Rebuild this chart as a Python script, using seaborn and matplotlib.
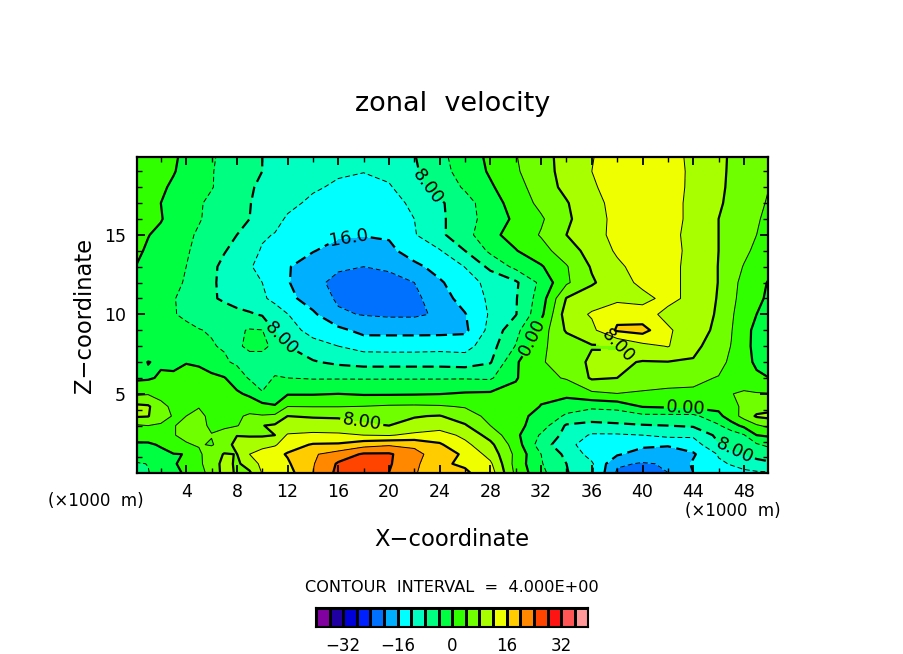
import numpy as np
import matplotlib
matplotlib.use("Agg")
import matplotlib.pyplot as plt
from matplotlib.colors import ListedColormap, BoundaryNorm
import seaborn as sns

sns.set_style("white")
plt.rcParams['font.family'] = ['DejaVu Sans']
plt.rcParams['text.color'] = 'black'
plt.rcParams['axes.labelcolor'] = 'black'
plt.rcParams['xtick.color'] = 'black'
plt.rcParams['ytick.color'] = 'black'

x_km = [0,1,2,3,4,5,6,7,8,9,10,11,12,14,16,18,20,22,24,26,28,30,32,34,36,38,40,42,44,46,47,48,49,50]
z_km = [0.05,0.6,1.2,1.8,2.4,3,3.6,4.2,5,6,7,8,9,10,11,12,13,14,15,16,17,18,19,19.9]

u_z00 = [-4.6,-4.2,-1.8,-0.5,0.3,3,5,9.5,7.5,7.5,12.3,13.5,14.5, 20,25,26,24,20.5,16.5,16.5,14,3,-3,-7.7,-11.5,-20.5,-22,-20,-16, -13.5,-13,-12.8,-12.5,-12.3]
u_z01 = [-4.4,-3.9,-1.5,-0.5,1.5,3.4,5.5,9.5,7.3,9.8,13,14,15.5, 19.7,24.5,25.5,24.4,21,16.5,15.5,12.7,2.5,-3.7,-8,-11.5,-19.5,-20.3,-19.7,-15.5, -12.5,-11.8,-10.5,-9,-8.5]
u_z02 = [-1.8,-0.9,-0.5,-0.2,0.1,3.5,5.5,8.3,7.9,12,13.3,15,16.3, 19.5,21.8,24.5,24.5,21.5,17.5,15.5,10.5,3,-4,-9,-13.5,-15.5,-18,-18.5,-16.5, -11.7,-9,-8,-7,-6.5]
u_z03 = [-0.5,-0.3,0.2,3.4,3.8,4.2,3.8,5,10,10.8,11,11.5,14.5, 16.3,16.5,18.5,19.5,19,16.5,13,9,2,-6,-10.8,-14,-14.5,-15,-15.5,-14, -8.3,-7,-5.8,-4.5,-3]
u_z04 = [1.5,1,2.6,3.9,4.5,4.2,4.1,5,7.8,7.5,7.5,8,12.5, 13,12.8,12,11.7,13,13.8,11,6.5,0.9,-4.5,-9.3,-12.5,-12.5,-12,-11,-11.3, -7,-6.3,-4.3,0,0.6]
u_z05 = [3.5,4,3.7,3.9,4.5,4.7,3.6,3.5,3.8,5.5,7.9,8.5,8.8, 9.5,9.3,8.3,8,9,10.2,8.4,4,1.2,-2,-8.5,-9,-8.5,-8.3,-8,-7.5, -4.5,-1.5,0.9,3.5,5]
u_z06 = [8.5,8.2,5,3.8,4,4.5,3.5,2.8,3.5,4.5,4.3,4.8,8, 7.7,7.6,7.3,7,7.8,8.2,6,2.8,1.2,-1.2,-4.6,-6.4,-6.5,-5,-5,-5, -1,2,5.4,8.5,9]
u_z07 = [9,8.5,5.3,3,2.5,3.9,4,3,3.8,2.5,1.5,0.3,4, 3.9,3.9,4.1,4.5,4.6,4.4,3.7,2.5,1.5,-0.1,-2.4,-3.2,-2.5,0.2,0.6,1, 1,3.4,4.4,6,6.5]
u_z08 = [3.3,3.7,2.5,1.8,1.5,1.5,2,1.4,0.6,-0.7,-3.8,-2,-0.3, -0.3,0,-0.4,-0.4,-0.3,-0.1,0.4,0.6,1,0.5,1.1,3.2,3.9,3.6,3.3,3.4, 3.3,3.9,4.5,4.3,4.2]
u_z09 = [-0.7,-0.5,0.5,0.3,0.8,1,0.8,0.2,-2,-4.4,-5,-3.8,-4, -4.3,-4.3,-4.3,-4.3,-4.3,-4.3,-4.3,-4.5,-0.3,3,4.3,8.5,8,5.7,5.3,4.8, 3.8,3,2,0.5,0]
u_z10 = [-1.5,0.1,-0.5,-0.4,-0.1,-0.4,-1.8,-3.5,-4.6,-4.8,-4.6,-5.2,-6, -7.7,-8.8,-9.5,-9.5,-9.5,-9.5,-9.8,-8.3,-0.5,3.8,5,9,8.6,7.8,7.9,7.6, 5.3,3.2,1,-0.5,-1]
u_z11 = [-3,-3,-3,-3.1,-3.3,-3.5,-3.8,-4.3,-4.3,-3.6,-3.7,-4.3,-8, -10.2,-12,-13.4,-13.5,-13.5,-13.3,-13.5,-9.5,-3.8,3.5,5.5,7.7,7.8,10.8,12.2,9.2, 5.6,3.9,1,-0.9,-1.5]
u_z12 = [-3,-3.1,-3.2,-3.4,-3.6,-3.9,-4.2,-4.4,-4.6,-3.7,-3.9,-8.3,-10, -13.7,-15,-17.2,-17.2,-17.2,-17.2,-16.8,-10.7,-5.3,2,8.5,11,16.5,17.5,12.5,10, 7,4.2,1.3,-1,-1.7]
u_z13 = [-2,-2.8,-3.5,-3.9,-4.3,-4.9,-5.5,-6.1,-6.8,-7.5,-8.4,-10,-11.9, -15.3,-19.5,-20.2,-20.6,-20.6,-19.5,-16.2,-11.5,-8.2,-1,10,12.4,15,13.5,11,10.3, 7.5,4.5,2,0,-1.5]
u_z14 = [-1.8,-2.5,-3.2,-3.9,-4.5,-6,-7.5,-8.6,-9.8,-10.6,-11.4,-13,-14.8, -18,-20.5,-22.5,-22.5,-21,-17.7,-14.5,-11.3,-8.3,-2,8.2,10.3,11,11,13,11, 7.7,5,2.5,1,-0.8]
u_z15 = [-1,-1.9,-2.7,-3.5,-4.2,-5.8,-7.4,-9,-10.4,-11.2,-12,-14,-15.7, -19,-21,-22,-21.5,-20,-16.5,-13.6,-10.9,-8.6,-3,3.4,7.5,10.5,12.8,13,11, 7.9,4.9,3.2,1.2,-0.3]
u_z16 = [0,-1,-2,-3,-4,-5.7,-7.3,-8.8,-10.3,-11.7,-13,-14.3,-15.7, -18,-19.5,-20,-19.3,-17,-14.5,-11.9,-7,-3,-0.4,3.7,8.4,11.3,13.5,13,11, 7.9,5.7,3.8,2.5,1]
u_z17 = [0.6,-0.4,-1.4,-2.5,-3.6,-5,-6.5,-7.8,-9,-10.5,-12.4,-13.2,-14, -15.8,-17.5,-18,-17,-14,-12.3,-8,-3.2,-0.2,2.6,6,9.6,12.5,14,13.3,11, 8,6.2,4.8,3.2,2]
u_z18 = [1,0.1,-0.7,-2,-3.2,-4.5,-5.8,-6.9,-8,-9.7,-11.5,-12.2,-13, -14.5,-15.5,-15.8,-15.5,-12.3,-8.8,-5.5,-1,1.5,4.3,8,10.7,13,14,13,11, 8,6.4,5,4,2.4]
u_z19 = [1.5,0.8,0.2,-1.2,-2.6,-3.7,-5,-6,-7.2,-8,-9,-10.8,-12.5, -14,-15,-15.5,-15,-12,-8.8,-5.5,-2.4,0.8,3.5,7.3,10.5,13,14,13.5,11, 8,6.7,5.5,4.5,2.8]
u_z20 = [1.8,0.9,0,-1.1,-2.3,-3.6,-4.8,-5.9,-6.9,-7.9,-8.8,-9.9,-11, -12.8,-14,-14.3,-13.8,-11,-8.6,-5.5,-1.8,1.7,5,7.7,11,13,14,13.5,11, 8.5,7.1,6,5,3.5]
u_z21 = [2,1.2,0.5,-0.5,-1.5,-2.7,-3.8,-5.2,-6.5,-7.7,-8.5,-9.2,-10, -11.5,-12.6,-13,-12.4,-9.5,-6.5,-3.5,-0.5,2.5,6,9,11.7,13,14,13.2,11.4, 8.8,7.3,6,5,4]
u_z22 = [2.5,1.8,1.2,0.2,-1,-2.4,-3.8,-4.9,-6,-7,-8,-8.8,-9.5, -10.5,-11.5,-11.9,-11,-8.6,-5.3,-2.5,0.5,3.5,6.5,9.3,12,13,14,13.3,11.4, 8.8,7.5,6.2,5.3,4.5]
u_z23 = [2.5,2,1.5,0.4,-0.7,-2.1,-3.6,-4.8,-6,-7,-8,-8.5,-9, -9.5,-10,-10,-9.5,-8.2,-5,-2,0.8,3.8,6.7,9.3,11.9,13,14,13.2,11.3, 8.8,7.6,6.5,5.5,4.5]

u_rows = [u_z00,u_z01,u_z02,u_z03,u_z04,u_z05,u_z06,u_z07,u_z08,u_z09,u_z10,u_z11,
          u_z12,u_z13,u_z14,u_z15,u_z16,u_z17,u_z18,u_z19,u_z20,u_z21,u_z22,u_z23]

band_colors = ["#8000A0","#2000A0","#0000D8","#0020FF","#0070FF","#00B0FF","#00FFFF","#00FFC0",
               "#00FF80","#00FF40","#30FF00","#70FF00","#A8FF00","#F0FF00","#FFCC00","#FF8800",
               "#FF4400","#FF1414","#FF5555","#FF9999"]
band_edges = list(range(-40, 41, 4))
thin_levels = [-28,-20,-12,-4,4,12,20,28]
thick_levels = [-24,-16,-8,0,8,16,24]
bar_ticks = [-32,-16,0,16,32]
bar_labels = ["−32","−16","0","16","32"]
label_spots = [(23,18),(16.9,14.4),(11.6,8.6),(17.8,3.0),(31.2,8.6),(38.1,8.2),(43.4,4.1),(47.3,1.5)]

W, H = 904, 654
fig = plt.figure(figsize=(W/100, H/100), dpi=100, facecolor="white")
ax = fig.add_axes([137/W, 1-472.5/H, 631/W, 315.5/H])
ax.set_axisbelow(False)

X, Z = np.meshgrid(x_km, z_km)
U = np.array(u_rows, dtype=float)
cmap = ListedColormap(band_colors)
norm = BoundaryNorm(band_edges, cmap.N)
ax.contourf(X, Z, U, levels=band_edges, cmap=cmap, norm=norm, antialiased=False)
ax.contour(X, Z, U, levels=thin_levels, colors="k", linewidths=0.7,
           linestyles=[(0,(5,3)) if v < 0 else "solid" for v in thin_levels])
cs = ax.contour(X, Z, U, levels=thick_levels, colors="k", linewidths=1.6,
                linestyles=[(0,(5,2.5)) if v < 0 else "solid" for v in thick_levels])
def fmt(v):
    return "16.0" if abs(v) == 16 else f"{abs(v):.2f}"
ax.clabel(cs, inline=True, fontsize=12.8, fmt=fmt, manual=label_spots, inline_spacing=2)

ax.set_xlim(0.12, 49.9)
ax.set_ylim(0.05, 19.9)
ax.set_xticks(range(4, 49, 4))
ax.set_xticks(range(2, 50, 2), minor=True)
ax.set_yticks([5, 10, 15])
ax.set_yticks(range(1, 20), minor=True)
ax.tick_params(which="major", direction="in", length=6, width=1.3, top=True, right=True, bottom=True, left=True,
               labelsize=12.5)
ax.tick_params(which="minor", direction="in", length=3.5, width=1, top=True, right=True, bottom=True, left=True)
ax.tick_params(axis="x", which="major", pad=7.5)
ax.tick_params(axis="y", which="major", pad=8)
for s in ax.spines.values():
    s.set_visible(True)
    s.set_linewidth(1.6)
    s.set_color("k")

fig.text(452.5/W, 1-104/H, "zonal  velocity", fontsize=19.5, ha="center", va="center")
fig.text(452/W, 1-540/H, "X−coordinate", fontsize=16.3, ha="center", va="center")
fig.text(84/W, 1-315/H, "Z−coordinate", fontsize=16.3, rotation=90, ha="center", va="center")
fig.text(95.5/W, 1-501/H, "(×1000  m)", fontsize=12, ha="center", va="center")
fig.text(732.5/W, 1-511/H, "(×1000  m)", fontsize=12, ha="center", va="center")
fig.text(452/W, 1-587/H, "CONTOUR  INTERVAL  =  4.000E+00", fontsize=11.6, ha="center", va="center")

bar = fig.add_axes([316/W, 1-627/H, 272.5/W, 19/H])
strip = np.arange(len(band_colors)).reshape(1, -1)
sns.heatmap(strip, ax=bar, cmap=cmap, cbar=False, linewidths=1.0, linecolor="k", square=False)
for s in bar.spines.values():
    s.set_visible(True)
    s.set_linewidth(1.5)
    s.set_color("k")
bar.set_xticks([(t - band_edges[0]) / 4 for t in bar_ticks])
bar.set_xticklabels(bar_labels, rotation=0, fontsize=12)
bar.set_yticks([])
bar.tick_params(axis="x", length=0, pad=7, bottom=False)

fig.savefig("out.png", dpi=100)
